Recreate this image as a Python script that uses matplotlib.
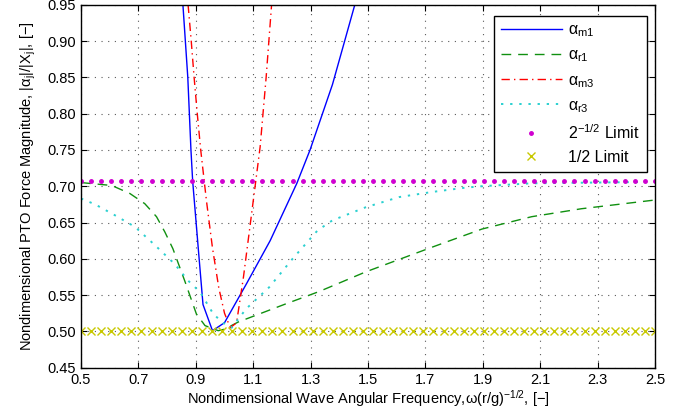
import numpy as np
import matplotlib
matplotlib.use("Agg")
import matplotlib.pyplot as plt

plt.rcParams['font.family'] = ['Liberation Sans', 'DejaVu Sans']
plt.rcParams['mathtext.fontset'] = 'custom'
plt.rcParams['mathtext.rm'] = 'Liberation Sans'
plt.rcParams['mathtext.it'] = 'Liberation Sans'
plt.rcParams['mathtext.bf'] = 'Liberation Sans:bold'

# frequency grid used for the limit markers
freq_grid = np.linspace(0.5, 2.5, 58)
limit_sqrt = 2 ** -0.5
limit_half = 0.5

# alpha_m1 (blue, solid)
m1_x = [0.855, 0.872, 0.883, 0.889, 0.909, 0.925, 0.958, 1.0, 1.077, 1.159, 1.252, 1.298, 1.376, 1.454]
m1_y = [0.95, 0.85, 0.75, 0.707, 0.612, 0.537, 0.501, 0.512, 0.566, 0.625, 0.704, 0.75, 0.84, 0.95]

# alpha_r1 (green, dashed)
r1_x = [0.5, 0.607, 0.67, 0.722, 0.763, 0.792, 0.82, 0.861, 0.902, 0.932, 0.978, 1.0, 1.048,
        1.214, 1.33, 1.492, 1.723, 1.897, 2.07, 2.244, 2.5]
r1_y = [0.705, 0.701, 0.69, 0.676, 0.658, 0.637, 0.614, 0.570, 0.524, 0.508, 0.501, 0.503, 0.513,
        0.538, 0.555, 0.582, 0.616, 0.641, 0.658, 0.669, 0.681]

# alpha_m3 (red, dash-dot)
m3_x = [0.873, 0.884, 0.894, 0.905, 0.917, 0.937, 0.958, 0.98, 1.0, 1.02, 1.042,
        1.066, 1.093, 1.124, 1.145, 1.164]
m3_y = [0.95, 0.90, 0.85, 0.80, 0.75, 0.68, 0.615, 0.56, 0.525, 0.505, 0.512,
        0.575, 0.658, 0.754, 0.85, 0.95]

# alpha_r3 (cyan, dotted)
r3_x = [0.5, 0.549, 0.618, 0.688, 0.757, 0.826, 0.873, 0.915, 0.961, 0.994, 1.025, 1.075,
        1.156, 1.237, 1.324, 1.376, 1.492, 1.608, 1.722, 1.839, 1.897, 2.07, 2.5]
r3_y = [0.683, 0.675, 0.66, 0.644, 0.619, 0.593, 0.570, 0.554, 0.524, 0.512, 0.505, 0.531,
        0.561, 0.600, 0.639, 0.653, 0.671, 0.685, 0.692, 0.698, 0.700, 0.704, 0.706]

xticks = [0.5, 0.7, 0.9, 1.1, 1.3, 1.5, 1.7, 1.9, 2.1, 2.3, 2.5]
yticks = [0.45, 0.50, 0.55, 0.60, 0.65, 0.70, 0.75, 0.80, 0.85, 0.90, 0.95]

fig = plt.figure(figsize=(6.89, 4.17), dpi=100)
ax = fig.add_axes([0.1176, 0.1182, 0.8331, 0.8705])

ax.plot(m1_x, m1_y, color='#0000ff', lw=1.0, label=r'$\alpha_{m1}$')
ax.plot(r1_x, r1_y, color='#109010', lw=1.0, linestyle=(0, (7, 5)), label=r'$\alpha_{r1}$')
ax.plot(m3_x, m3_y, color='#ff0000', lw=1.0, linestyle=(0, (6, 3, 1, 3)), label=r'$\alpha_{m3}$')
ax.plot(r3_x, r3_y, color='#2bd0d0', lw=1.4, linestyle=(0, (1.2, 3.5)), label=r'$\alpha_{r3}$')
ax.plot(freq_grid, np.full(len(freq_grid), limit_sqrt), linestyle='none', marker='.',
        color='#d000d0', markersize=5, label=r'$2^{-1/2}$ Limit')
ax.plot(freq_grid, np.full(len(freq_grid), limit_half), linestyle='none', marker='x',
        color='#c8c800', markersize=6, markeredgewidth=1.0, label='1/2 Limit')

ax.set_xlim(0.5, 2.5)
ax.set_ylim(0.45, 0.95)
ax.set_xticks(xticks)
ax.set_yticks(yticks)
ax.set_xticklabels(['%.1f' % v for v in xticks])
ax.set_yticklabels(['%.2f' % v for v in yticks])
ax.tick_params(direction='in', top=True, right=True, length=4, labelsize=10.5, width=0.8)
ax.grid(True, color='0.35', linestyle=(0, (1, 5)), linewidth=0.8)
for s in ax.spines.values():
    s.set_linewidth(1.0)

ax.set_xlabel(r'Nondimensional Wave Angular Frequency,$\omega$(r/g)$^{-1/2}$, [$-$]', fontsize=10.5, labelpad=1)
ax.set_ylabel(r'Nondimensional PTO Force Magnitude, |$\alpha_j$|/|X$_j$|, [$-$]', fontsize=10.5, labelpad=7)

leg = ax.legend(loc='upper right', bbox_to_anchor=(0.986, 0.97), borderaxespad=0,
                fancybox=False, edgecolor='black', framealpha=1, fontsize=11.5,
                handlelength=3.8, handletextpad=0.4, numpoints=1, labelspacing=0.52,
                borderpad=0.45)
leg.get_frame().set_linewidth(1.0)

fig.savefig('out.png', dpi=100)
